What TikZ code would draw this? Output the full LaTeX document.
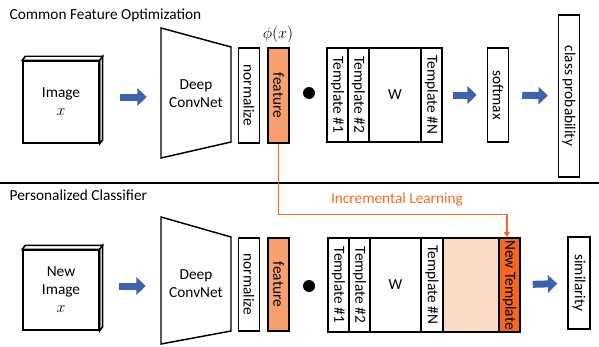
\documentclass[tikz,border=0pt]{standalone}
\usepackage{fontspec}
\setmainfont{Carlito}
\usetikzlibrary{arrows.meta}

\newdimen\pxu \pxu=0.75pt
\definecolor{arrowblue}{HTML}{3D63AC}
\definecolor{featorange}{HTML}{F79F6E}
\definecolor{neworange}{HTML}{F5661E}
\definecolor{slotpeach}{HTML}{FADBC6}
\definecolor{learnorange}{HTML}{F26B25}
\definecolor{cubeside}{HTML}{C8C4BC}

\tikzset{
  vbox/.style={draw, line width=1.1pt, rotate=-90, inner sep=0pt, minimum height=21\pxu},
  wbox/.style={draw, line width=1.1pt, inner sep=0pt, minimum width=52\pxu, minimum height=94\pxu},
  cube/.style={draw, line width=1.1pt, fill=white, minimum width=76\pxu, align=center},
  bluearrow/.style={arrowblue, line width=7\pxu, -{Triangle[length=7pt,width=13pt]}},
  learnline/.style={learnorange, line width=1.1pt, -{Triangle[length=4pt,width=4.5pt]}},
}

\begin{document}
\begin{tikzpicture}[x=0.75pt, y=-0.75pt,
    every node/.style={font=\fontsize{11.5}{13.5}\selectfont}]
  \useasboundingbox (0,0) rectangle (599,346);

  % ---- common feature optimization
  \node[anchor=west] (title1) at (5,15) {Common Feature Optimization};
  \node[cube, minimum height=82\pxu] (img) at (61,102) {Image\\$x$};
  \draw[line width=1.1pt] (161,28) -- (231,47) -- (231,142) -- (161,158) -- cycle;
  \node[align=center] (cnn) at (196,94) {Deep\\ConvNet};
  \node[vbox, minimum width=95\pxu] (norm) at (249,95.5) {normalize};
  \node[vbox, minimum width=95\pxu, fill=featorange] (feat) at (278.5,95.5) {feature};
  \node (phi) at (278,35) {$\phi(x)$};
  \node[circle, fill, inner sep=0pt, minimum size=12\pxu] (dot) at (309,93) {};
  \node[vbox, minimum width=94\pxu] (t1) at (337.5,95) {Template \#1};
  \node[vbox, minimum width=94\pxu] (t2) at (358.5,95) {Template \#2};
  \node[wbox] (w) at (395,95) {W};
  \node[vbox, minimum width=94\pxu] (tn) at (431.5,95) {Template \#N};
  \node[vbox, minimum width=94\pxu] (soft) at (498,95) {softmax};
  \node[vbox, minimum width=162\pxu] (prob) at (569,96) {class probability};

  \draw[bluearrow] ([shift={(20,-5)}]img.east) -- ++(27,0);
  \draw[bluearrow, shorten <=10\pxu, shorten >=10\pxu] (tn) -- (soft);
  \draw[bluearrow, shorten <=13\pxu, shorten >=10\pxu] (soft) -- (prob);

  \draw[line width=1.2pt] (0,183) -- (599,183);

  % ---- personalized classifier
  \node[anchor=west] (title2) at (5,195) {Personalized Classifier};
  \node[cube, minimum height=80\pxu] (img2) at (61,290) {New\\Image\\$x$};
  \draw[line width=1.1pt] (161,217) -- (231,237) -- (231,331) -- (161,344) -- cycle;
  \node[align=center] (cnn2) at (196,284) {Deep\\ConvNet};
  \node[vbox, minimum width=93\pxu] (norm2) at (249,284.5) {normalize};
  \node[vbox, minimum width=93\pxu, fill=featorange] (feat2) at (278.5,284.5) {feature};
  \node[circle, fill, inner sep=0pt, minimum size=12\pxu] (dot2) at (309,286) {};
  \node[vbox, minimum width=94\pxu] (s1) at (338.5,285) {Template \#1};
  \node[vbox, minimum width=94\pxu] (s2) at (359.5,285) {Template \#2};
  \node[wbox, minimum width=51\pxu] (w2) at (395.5,285) {W};
  \node[vbox, minimum width=94\pxu, minimum height=22\pxu] (sn) at (432,285) {Template \#N};
  \node[draw, line width=1.1pt, fill=slotpeach, minimum width=56\pxu, minimum height=94\pxu] (slot) at (471,285) {};
  \node[vbox, minimum width=94\pxu, fill=neworange] (newt) at (509.5,285) {New Template};
  \node[vbox, minimum width=92\pxu, minimum height=22\pxu] (sim) at (579,283) {similarity};

  \draw[bluearrow] ([shift={(19,-4)}]img2.east) -- ++(27,0);
  \draw[bluearrow, shorten <=12\pxu, shorten >=10\pxu] (newt) -- (sim);

  % ---- cube faces
  \foreach \n in {img,img2} {
    \draw[line width=1.1pt, fill=white] (\n.north west) -- ++(3,-4)
      -- ([shift={(3,-4)}]\n.north east) -- (\n.north east) -- cycle;
    \draw[line width=1.1pt, fill=cubeside] (\n.north east) -- ++(3,-4)
      -- ([shift={(3,-4)}]\n.south east) -- (\n.south east) -- cycle;
  }

  % ---- incremental learning
  \draw[learnline] (feat.east) -- ++(0,71) -| ([xshift=-2]newt.west);
  \node[text=learnorange] (inc) at (397,199) {Incremental Learning};
\end{tikzpicture}
\end{document}
